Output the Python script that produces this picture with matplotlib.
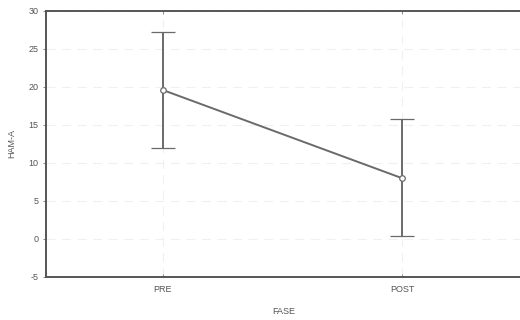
import numpy as np
import matplotlib
matplotlib.use('Agg')
import matplotlib.pyplot as plt

# Data
fases = ['PRE', 'POST']
medias = [19.6, 8.0]
sup = [27.2, 15.8]
inf = [12.0, 0.4]

plt.rcParams['font.family'] = ['Liberation Sans', 'DejaVu Sans']
plt.rcParams['axes.unicode_minus'] = False

x = np.arange(len(fases))
err = [np.array(medias) - np.array(inf), np.array(sup) - np.array(medias)]

fig = plt.figure(figsize=(5.2, 3.2), dpi=100)
ax = fig.add_axes([45.7 / 520, 43 / 320, 476 / 520, 266 / 320])

ax.errorbar(x, medias, yerr=err, color='#6a6a6a', lw=1.4, capsize=8.5,
            capthick=1.4, marker='o', ms=4, mfc='white', mec='#6a6a6a',
            mew=0.9, zorder=3)

ax.set_xlim(-0.49, 1.5)
ax.set_ylim(-5, 30)
ax.set_yticks(range(-5, 31, 5))
ax.set_xticks(x)
ax.set_xticklabels(fases)

ax.grid(True, ls=(0, (8, 6)), color='#f0f0f0', lw=0.8)
for s in ax.spines.values():
    s.set_color('#555555')
    s.set_linewidth(1.4)

ax.tick_params(axis='y', direction='out', length=2, width=0.6, colors='#777777',
               labelsize=6.5, labelcolor='#555555', pad=3, right=True)
ax.tick_params(axis='x', direction='in', length=2, width=0.6, colors='#777777',
               labelsize=6.5, labelcolor='#555555', pad=6, top=True)

ax.set_xlabel('FASE', fontsize=6.5, color='#555555', labelpad=9)
ax.set_ylabel('HAM-A', fontsize=6.5, color='#555555', labelpad=9)

fig.savefig('out.png', dpi=100)
